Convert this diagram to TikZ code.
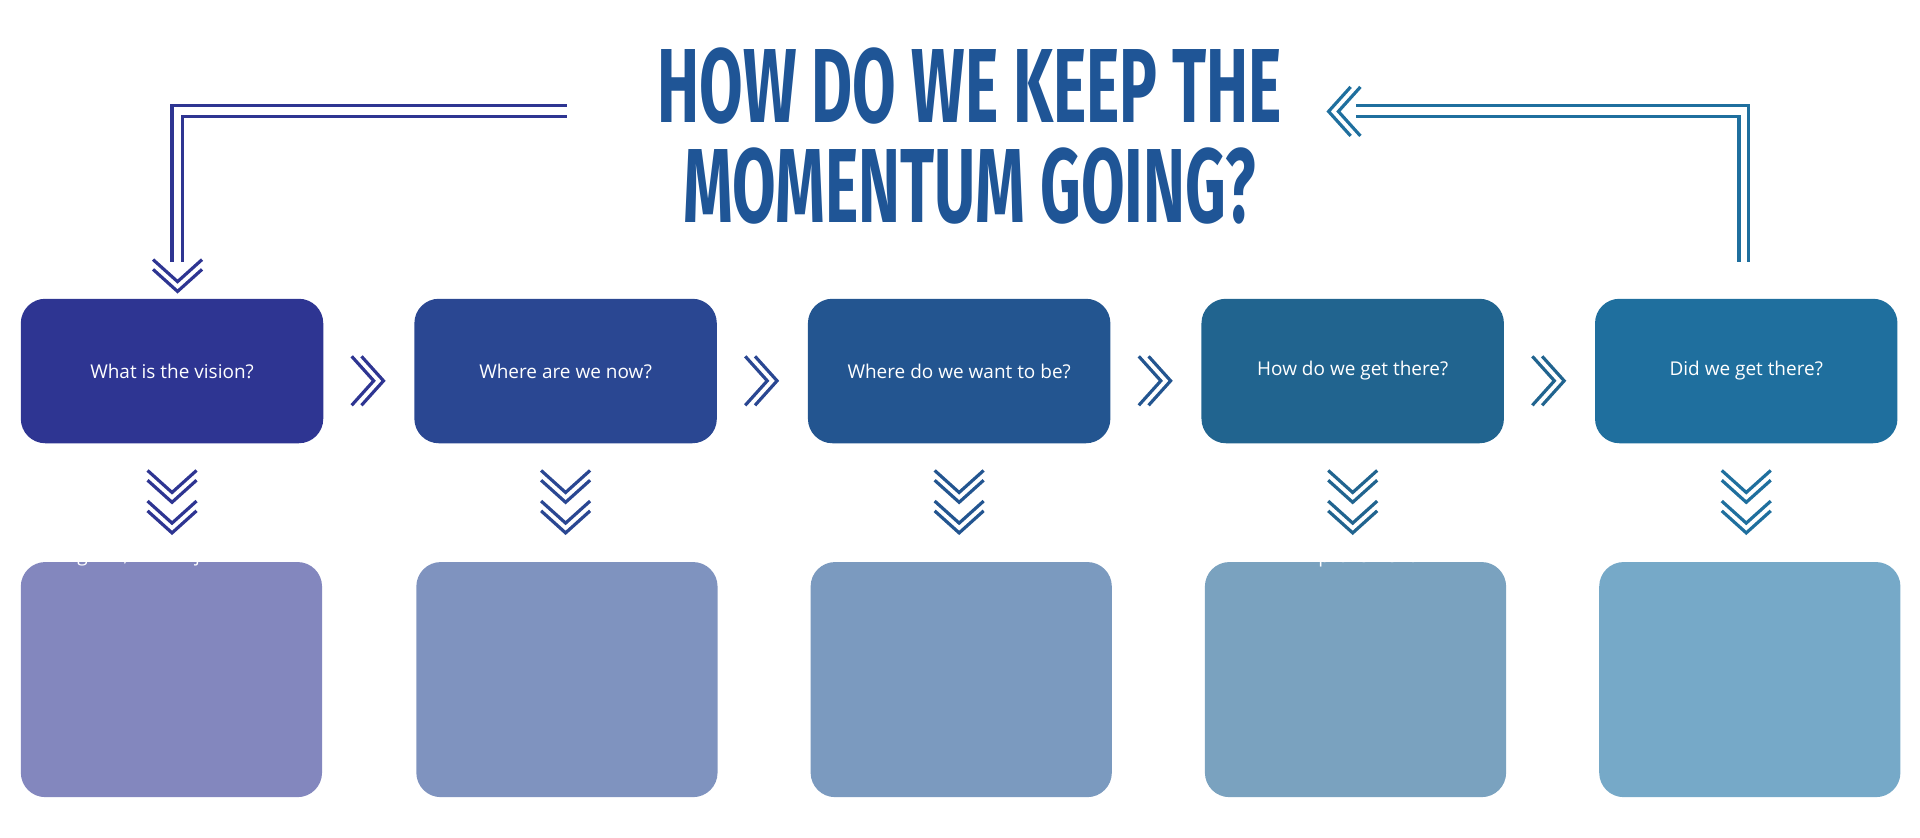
\documentclass[tikz,border=0pt]{standalone}
\usepackage{fontspec}
\setmainfont{Open Sans}
\newfontfamily\titlefont[FakeStretch=0.6]{Fira Sans}
\usetikzlibrary{positioning,calc}

\definecolor{topA}{HTML}{2E3592}
\definecolor{topB}{HTML}{2A4792}
\definecolor{topC}{HTML}{235590}
\definecolor{topD}{HTML}{21648F}
\definecolor{topE}{HTML}{1F6F9E}
\definecolor{botA}{HTML}{8387BE}
\definecolor{botB}{HTML}{7F93BF}
\definecolor{botC}{HTML}{7B9ABF}
\definecolor{botD}{HTML}{7AA2BF}
\definecolor{botE}{HTML}{76A9C8}
\definecolor{titleblue}{HTML}{1F5596}

\tikzset{
  question/.style={rounded corners=20, minimum width=247, minimum height=118,
    text=white, font=\fontsize{15.5}{20}\selectfont, inner sep=0},
  answer/.style={rounded corners=20, minimum width=246, minimum height=192,
    inner sep=0},
  anstext/.style={text=white, font=\fontsize{15.5}{23}\selectfont, align=center},
  chev/.pic={
    \draw[line width=2.6] (-18,-20) -- (0,0) -- (-18,20);
    \draw[line width=2.6] (-26,-20) -- (-8,0) -- (-26,20);
  },
  rail/.style={line width=2.6}
}

\begin{document}
\begin{tikzpicture}[x=1pt,y=-1pt]
\useasboundingbox (0,0) rectangle (1568,684);

% title
\node[text=titleblue, font=\titlefont\bfseries\fontsize{86}{82}\selectfont, align=center]
  (title) at (792,111) {HOW DO WE KEEP THE\\MOMENTUM GOING?};

% question row
\node[question, fill=topA] (v1) at (140.5,303) {What is the vision?};
\node[question, fill=topB, right=74 of v1] (v2) {Where are we now?};
\node[question, fill=topC, right=74 of v2] (v3) {Where do we want to be?};
\node[question, fill=topD, right=74 of v3] (v4) {How do we get there?};
\node[question, fill=topE, right=74 of v4] (v5) {Did we get there?};

% answer row
\node[answer, fill=botA] (d1) at (140,555) {};
\node[answer, fill=botB] (d2) at (463,555) {};
\node[answer, fill=botC] (d3) at (785,555) {};
\node[answer, fill=botD] (d4) at (1107,555) {};
\node[answer, fill=botE] (d5) at (1429,555) {};
\node[anstext, below=38 of d1.north] {Business vision, mission,\\goals, and objectives.};
\node[anstext, below=38 of d2.north] {Baseline assessment};
\node[anstext, below=38 of d3.north] {Measurable targets};
\node[anstext, below=38 of d4.north] {Service and process\\improvement};
\node[anstext, below=38 of d5.north] {Measurements and metrics};

% chevrons
\foreach \a/\b/\c in {v1/v2/topA,v2/v3/topB,v3/v4/topC,v4/v5/topD}
  \draw[\c] ($(\a.east)!0.5!(\b.west)+(12,8)$) pic {chev};
\foreach \a/\c in {v1/topA,v2/topB,v3/topC,v4/topD,v5/topE} {
  \draw[\c] ($(\a.south)+(0,48)$) pic[rotate=-90] {chev};
  \draw[\c] ($(\a.south)+(0,73)$) pic[rotate=-90] {chev};
}

% loop back
\coordinate (lt) at (463,86);
\coordinate (rt) at (1107,86);
\draw[topA, rail] (lt) -| (140.5,214);
\draw[topA, rail] ($(lt)+(0,9)$) -| (149,214);
\draw[topA] (145,238) pic[rotate=-90] {chev};
\draw[topE, rail] ($(v5.north)+(2,-30)$) |- (rt);
\draw[topE, rail] ($(v5.north)+(-6,-30)$) |- ($(rt)+(0,9)$);
\draw[topE] (1085,91) pic[rotate=180] {chev};
\end{tikzpicture}
\end{document}
